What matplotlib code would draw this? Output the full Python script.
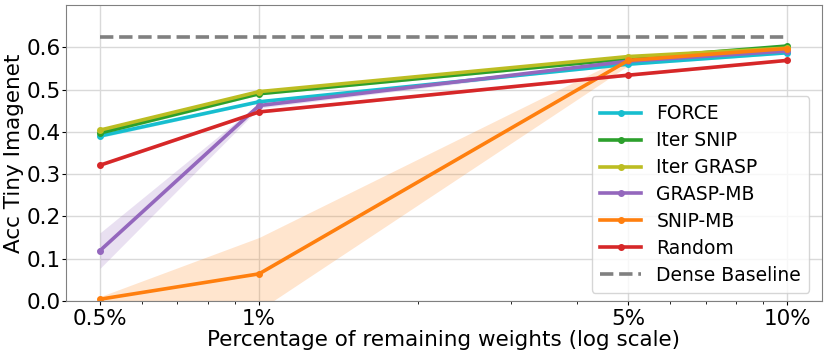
import numpy as np
import matplotlib
matplotlib.use("Agg")
import matplotlib.pyplot as plt

# fraction of remaining weights
sparsity = [0.005, 0.01, 0.05, 0.1]
tick_labels = ["0.5%", "1%", "5%", "10%"]

force = [0.390, 0.471, 0.560, 0.587]
iter_snip = [0.397, 0.490, 0.573, 0.603]
iter_grasp = [0.404, 0.495, 0.578, 0.598]
grasp_mb = [0.119, 0.462, 0.567, 0.591]
snip_mb = [0.004, 0.064, 0.569, 0.597]
random_ = [0.321, 0.447, 0.534, 0.569]
dense_baseline = 0.624

# half-width of the shaded bands (std)
force_std = [0.004, 0.003, 0.003, 0.003]
iter_snip_std = [0.004, 0.003, 0.003, 0.003]
iter_grasp_std = [0.004, 0.003, 0.003, 0.003]
grasp_mb_std = [0.042, 0.006, 0.004, 0.003]
snip_mb_std = [0.006, 0.086, 0.012, 0.004]
random_std = [0.003, 0.003, 0.003, 0.003]

series = [
    ("FORCE", force, force_std, "tab:cyan"),
    ("Iter SNIP", iter_snip, iter_snip_std, "tab:green"),
    ("Iter GRASP", iter_grasp, iter_grasp_std, "tab:olive"),
    ("GRASP-MB", grasp_mb, grasp_mb_std, "tab:purple"),
    ("SNIP-MB", snip_mb, snip_mb_std, "tab:orange"),
    ("Random", random_, random_std, "tab:red"),
]

fig = plt.figure(figsize=(8.31, 3.54), dpi=100)
ax = fig.add_axes([0.079, 0.150, 0.910, 0.836])

x = np.array(sparsity)
for name, mean, std, color in series:
    mean = np.array(mean)
    std = np.array(std)
    ax.fill_between(x, mean - std, mean + std, color=color, alpha=0.2, lw=0)
    ax.plot(x, mean, color=color, lw=2.6, marker="o", markersize=4, label=name)

ax.plot(x, [dense_baseline] * len(x), "--", color="gray", lw=2.6, label="Dense Baseline")

ax.set_xscale("log")
ax.set_xticks(sparsity)
ax.set_xticklabels(tick_labels)
ax.set_ylim(0, 0.7)
ax.set_yticks([0.0, 0.1, 0.2, 0.3, 0.4, 0.5, 0.6])
ax.tick_params(axis="both", which="major", labelsize=15.5, length=3)
ax.tick_params(axis="y", pad=0.5)
ax.tick_params(axis="x", pad=2.5)
ax.grid(True, which="major", color="#d9d9d9", lw=1)
ax.set_axisbelow(True)
for s in ax.spines.values():
    s.set_color("gray")

ax.set_xlabel("Percentage of remaining weights (log scale)", fontsize=15.5, labelpad=1)
ax.set_ylabel("Acc Tiny Imagenet", fontsize=15.5, labelpad=1.5)
ax.legend(loc="lower right", fontsize=13.5, handlelength=2.2, borderpad=0.45,
          labelspacing=0.42, bbox_to_anchor=(0.996, -0.005))

fig.savefig("out.png", dpi=100)
